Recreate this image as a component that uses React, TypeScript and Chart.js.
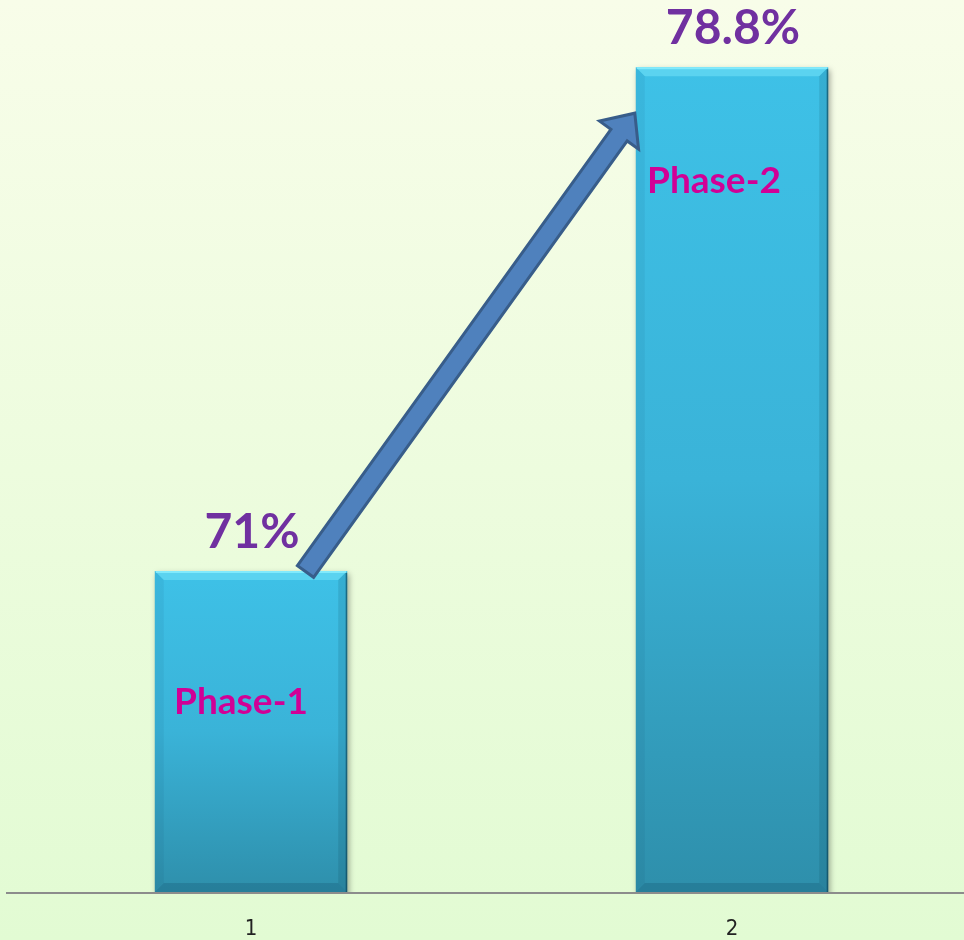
import React, { useEffect, useRef } from "react";
import { Chart, registerables } from "chart.js";

Chart.register(...registerables);

const categories = ["1", "2"];
const values = [71, 78.8];
const valueLabels = ["71%", "78.8%"];
const phaseLabels = ["Phase-1", "Phase-2"];

const Y_MIN = 66.03;
const Y_MAX = 79.84;

const decorPlugin = {
  id: "decor",
  beforeDraw(chart: any) {
    const { ctx, width, height } = chart;
    const g = ctx.createLinearGradient(0, 0, 0, height);
    g.addColorStop(0, "#f8fde9");
    g.addColorStop(1, "#e2fbd3");
    ctx.save();
    ctx.fillStyle = g;
    ctx.fillRect(0, 0, width, height);
    ctx.restore();
  },
  beforeDatasetDraw(chart: any) {
    const { ctx } = chart;
    ctx.save();
    ctx.shadowColor = "rgba(0,0,0,0.35)";
    ctx.shadowBlur = 6;
    ctx.shadowOffsetX = 2;
    ctx.shadowOffsetY = 3;
  },
  afterDatasetDraw(chart: any) {
    chart.ctx.restore();
  },
  afterDatasetsDraw(chart: any) {
    const { ctx, chartArea } = chart;
    const meta = chart.getDatasetMeta(0);
    const bars = meta.data as any[];
    // bevels
    bars.forEach((el: any) => {
      const l = el.x - el.width / 2;
      const r = el.x + el.width / 2;
      const t = el.y;
      const b = Math.min(el.base, chartArea.bottom);
      const bv = 9;
      ctx.save();
      ctx.beginPath();
      ctx.moveTo(l, t);
      ctx.lineTo(r, t);
      ctx.lineTo(r - bv, t + bv);
      ctx.lineTo(l + bv, t + bv);
      ctx.closePath();
      ctx.fillStyle = "rgba(120,230,250,0.5)";
      ctx.fill();
      ctx.beginPath();
      ctx.moveTo(l, t);
      ctx.lineTo(l + bv, t + bv);
      ctx.lineTo(l + bv, b - bv);
      ctx.lineTo(l, b);
      ctx.closePath();
      ctx.fillStyle = "rgba(0,40,60,0.06)";
      ctx.fill();
      ctx.beginPath();
      ctx.moveTo(r, t);
      ctx.lineTo(r - bv, t + bv);
      ctx.lineTo(r - bv, b - bv);
      ctx.lineTo(r, b);
      ctx.closePath();
      ctx.fillStyle = "rgba(0,40,60,0.12)";
      ctx.fill();
      ctx.beginPath();
      ctx.moveTo(l, b);
      ctx.lineTo(l + bv, b - bv);
      ctx.lineTo(r - bv, b - bv);
      ctx.lineTo(r, b);
      ctx.closePath();
      ctx.fillStyle = "rgba(0,40,60,0.16)";
      ctx.fill();
      ctx.fillStyle = "rgba(140,240,255,0.8)";
      ctx.fillRect(l + 1, t, el.width - 2, 2);
      ctx.fillStyle = "rgba(10,60,80,0.6)";
      ctx.fillRect(r - 1.5, t + 2, 1.5, b - t - 2);
      ctx.restore();
    });

    // axis line
    ctx.save();
    ctx.strokeStyle = "#8c8c8c";
    ctx.lineWidth = 2;
    ctx.beginPath();
    ctx.moveTo(6, chartArea.bottom + 1);
    ctx.lineTo(chart.width, chartArea.bottom + 1);
    ctx.stroke();
    ctx.restore();

    // value labels
    ctx.save();
    ctx.font = "bold 48px Lato";
    ctx.fillStyle = "#7030a0";
    ctx.textAlign = "center";
    ctx.textBaseline = "alphabetic";
    bars.forEach((el: any, i: number) => {
      ctx.fillText(valueLabels[i], el.x + 1, el.y - 23);
    });
    ctx.restore();

    // phase labels
    const phaseOffsets = [
      { dx: -10, dy: 143 },
      { dx: -18, dy: 126 },
    ];
    ctx.save();
    ctx.font = "bold 37px Lato";
    ctx.fillStyle = "#d10096";
    ctx.textAlign = "center";
    ctx.textBaseline = "alphabetic";
    bars.forEach((el: any, i: number) => {
      ctx.fillText(phaseLabels[i], el.x + phaseOffsets[i].dx, el.y + phaseOffsets[i].dy);
    });
    ctx.restore();

    // arrow
    if (bars.length >= 2) {
      const b1 = bars[0];
      const b2 = bars[1];
      const sx = b1.x + 54.5;
      const sy = b1.y + 0.5;
      const ex = b2.x - b2.width / 2 - 1;
      const ey = b2.y + 46;
      const dx = ex - sx;
      const dy = ey - sy;
      const len = Math.hypot(dx, dy);
      const ux = dx / len;
      const uy = dy / len;
      const nx = -uy;
      const ny = ux;
      const hw = 10;
      const hhw = 24;
      const hl = 27;
      const nkx = ex - ux * hl;
      const nky = ey - uy * hl;
      ctx.save();
      ctx.beginPath();
      ctx.moveTo(sx + nx * hw, sy + ny * hw);
      ctx.lineTo(nkx + nx * hw, nky + ny * hw);
      ctx.lineTo(nkx + nx * hhw, nky + ny * hhw);
      ctx.lineTo(ex, ey);
      ctx.lineTo(nkx - nx * hhw, nky - ny * hhw);
      ctx.lineTo(nkx - nx * hw, nky - ny * hw);
      ctx.lineTo(sx - nx * hw, sy - ny * hw);
      ctx.closePath();
      ctx.fillStyle = "#4f81bd";
      ctx.fill();
      ctx.lineWidth = 3;
      ctx.lineJoin = "miter";
      ctx.strokeStyle = "#385d8a";
      ctx.stroke();
      ctx.restore();
    }
  },
};

export default function App() {
  const canvasRef = useRef<HTMLCanvasElement | null>(null);

  useEffect(() => {
    if (!canvasRef.current) return;
    const chart = new Chart(canvasRef.current, {
      type: "bar",
      data: {
        labels: categories,
        datasets: [
          {
            data: values,
            backgroundColor: (c: any) => {
              const ch = c.chart;
              const area = ch.chartArea;
              if (!area || c.dataIndex === undefined) return "#3bb8dd";
              const top = ch.scales.y.getPixelForValue(values[c.dataIndex]);
              const g = ch.ctx.createLinearGradient(0, top, 0, area.bottom);
              g.addColorStop(0, "#3ec1e7");
              g.addColorStop(0.5, "#3ab3d8");
              g.addColorStop(1, "#2e8fab");
              return g;
            },
            borderWidth: 0,
            barPercentage: 0.4,
            categoryPercentage: 1,
          },
        ],
      },
      options: {
        animation: false,
        responsive: true,
        maintainAspectRatio: false,
        layout: { padding: { left: 10.5, right: 7.5, top: 0, bottom: 0 } },
        plugins: {
          legend: { display: false },
          tooltip: { enabled: false },
        },
        scales: {
          y: {
            display: false,
            min: Y_MIN,
            max: Y_MAX,
          },
          x: {
            grid: { display: false, drawTicks: false },
            border: { display: false },
            afterFit: (scale: any) => {
              scale.height = 48;
            },
            ticks: {
              padding: 24,
              color: "#222222",
              font: { family: "'DejaVu Sans Condensed', 'Liberation Sans Narrow', 'DejaVu Sans', sans-serif", size: 22 },
            },
          },
        },
      },
      plugins: [decorPlugin],
    });
    return () => chart.destroy();
  }, []);

  return (
    <div
      style={{
        position: "absolute",
        left: 0,
        top: 0,
        width: 964,
        height: 940,
        overflow: "hidden",
      }}
    >
      <div style={{ position: "relative", width: 980, height: 940 }}>
        <canvas ref={canvasRef} />
      </div>
    </div>
  );
}
